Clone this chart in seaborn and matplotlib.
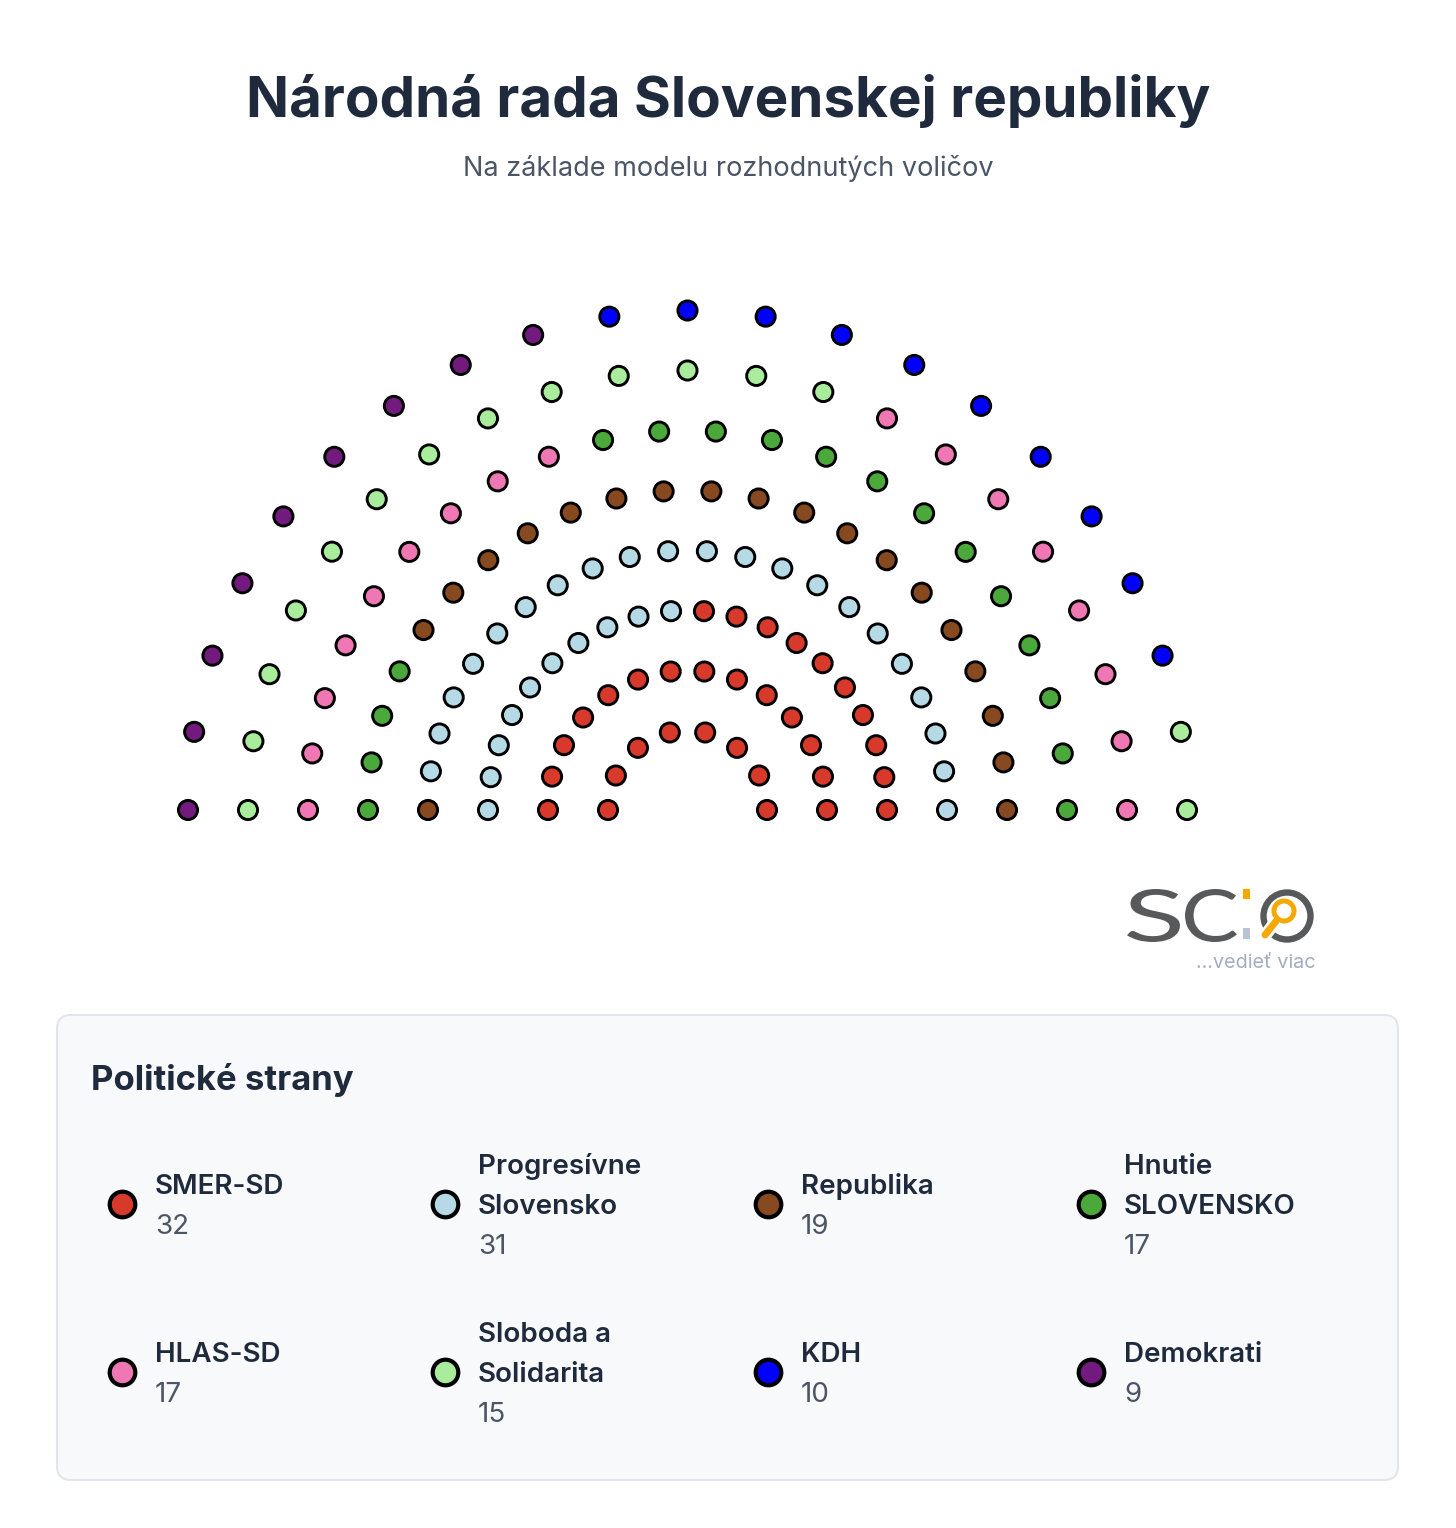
import numpy as np
import pandas as pd
import matplotlib
matplotlib.use("Agg")
import matplotlib.pyplot as plt
import seaborn as sns
from matplotlib.patches import FancyBboxPatch, Circle, Rectangle, PathPatch
from matplotlib.textpath import TextPath
from matplotlib.font_manager import FontProperties
from matplotlib.transforms import Affine2D

# data
parties = ['SMER-SD', 'Progresívne Slovensko', 'Republika', 'Hnutie SLOVENSKO',
           'HLAS-SD', 'Sloboda a Solidarita', 'KDH', 'Demokrati']
labels = ['SMER-SD', 'Progresívne\nSlovensko', 'Republika', 'Hnutie\nSLOVENSKO',
          'HLAS-SD', 'Sloboda a\nSolidarita', 'KDH', 'Demokrati']
seats = [32, 31, 19, 17, 17, 15, 10, 9]
colors = ['#d7392b', '#b5d9e5', '#874a20', '#4ba83a',
          '#ef78b4', '#a8ec9c', '#0000ff', '#731a7f']

# seats per ring, outer ring first
ring_seats = [21, 21, 22, 22, 22, 20, 14, 8]

# build seat table: rings filled outer -> inner, left -> right,
# parties in reverse legend order
order = []
for p, n in zip(parties[::-1], seats[::-1]):
    order += [p] * n
rows = []
k = 0
n_rings = len(ring_seats)
for i, n in enumerate(ring_seats):
    r = 79.5 + 60 * (n_rings - 1 - i)
    for th in np.linspace(np.pi, 0, n):
        rows.append({'x': r * np.cos(th), 'y': r * np.sin(th), 'party': order[k]})
        k += 1
df = pd.DataFrame(rows)

sns.set_style('white')
plt.rcParams['font.family'] = ['Inter', 'DejaVu Sans']

W, H = 1456, 1528
fig = plt.figure(figsize=(W / 100, H / 100), dpi=100)
fig.patch.set_facecolor('white')

# decoration axes in pixel coords (top-left origin)
deco = fig.add_axes([0, 0, 1, 1])
deco.set_xlim(0, W)
deco.set_ylim(H, 0)
deco.axis('off')

# hemicycle axes, 1 unit = 1 px, centre at (687.5, 810)
ax = fig.add_axes([0, 0, 1, 1])
cx, cy = 687.5, 810
ax.set_xlim(-cx, W - cx)
ax.set_ylim(cy - H, cy)
ax.axis('off')
ax.patch.set_alpha(0)

sns.scatterplot(data=df, x='x', y='y', hue='party', palette=dict(zip(parties, colors)),
                s=190, edgecolor='black', linewidth=2.1, legend=False, ax=ax, zorder=3)

# titles
deco.text(W / 2, 117, 'Národná rada Slovenskej republiky', ha='center', va='baseline',
          fontsize=40.7, fontweight='bold', color='#1f2a3d')
deco.text(W / 2, 176, 'Na základe modelu rozhodnutých voličov', ha='center', va='baseline',
          fontsize=19.5, color='#4b5565')


# logo letters, stretched into their boxes
def logo_letter(ch, x0, x1, y0, y1):
    tp = TextPath((0, 0), ch, size=100, prop=FontProperties(family='Lato'))
    ext = tp.get_extents()
    sx = (x1 - x0) / ext.width
    sy = (y1 - y0) / ext.height
    tr = Affine2D().translate(-ext.x0, -ext.y0).scale(sx, -sy).translate(x0, y1)
    deco.add_patch(PathPatch(tr.transform_path(tp), fc='#58595b', ec='none'))


logo_letter('S', 1127, 1180, 889, 942)
logo_letter('C', 1185, 1237, 889, 942)
deco.add_patch(Rectangle((1243, 889), 7, 10, color='#f5a800', lw=0))
deco.add_patch(Rectangle((1243, 928), 7, 11, color='#b9c3d3', lw=0))
deco.add_patch(Circle((1287, 916), 23.5, fill=False, ec='#58595b', lw=4.6))
deco.plot([1277, 1263], [920, 938], color='white', lw=9, solid_capstyle='butt')
deco.add_patch(Circle((1284, 911), 10, fill=False, ec='#f5a800', lw=3.6))
deco.plot([1277, 1265], [920, 935], color='#f5a800', lw=5, solid_capstyle='round')
deco.text(1256, 968, '...vedieť viac', ha='center', va='baseline', fontsize=14.3,
          color='#a3aec2')

# legend box
deco.add_patch(FancyBboxPatch((57, 1015), 1341, 465, boxstyle='round,pad=0,rounding_size=14',
                              fc='#f8f9fb', ec='#e2e6ec', lw=1.5))
deco.text(91, 1090, 'Politické strany', ha='left', va='baseline', fontsize=25,
          fontweight='bold', color='#1f2a3d')

col_x = [122, 445, 768, 1091]
row_y = [1204, 1372]
for i, (lab, n, c) in enumerate(zip(labels, seats, colors)):
    mx = col_x[i % 4]
    my = row_y[i // 4]
    deco.scatter([mx], [my], s=340, color=c, edgecolor='black', linewidth=3, zorder=3)
    lines = lab.split('\n')
    kk = len(lines) + 1
    y0 = my - 10 - 20 * (kk - 2)
    for j, ln in enumerate(lines):
        deco.text(mx + 33, y0 + 40 * j, ln, ha='left', va='baseline', fontsize=20,
                  fontweight='semibold', color='#1f2a3d')
    deco.text(mx + 33, y0 + 40 * len(lines), str(n), ha='left', va='baseline',
              fontsize=20, color='#4b5565')

plt.savefig('out.png', dpi=100, facecolor='white')
